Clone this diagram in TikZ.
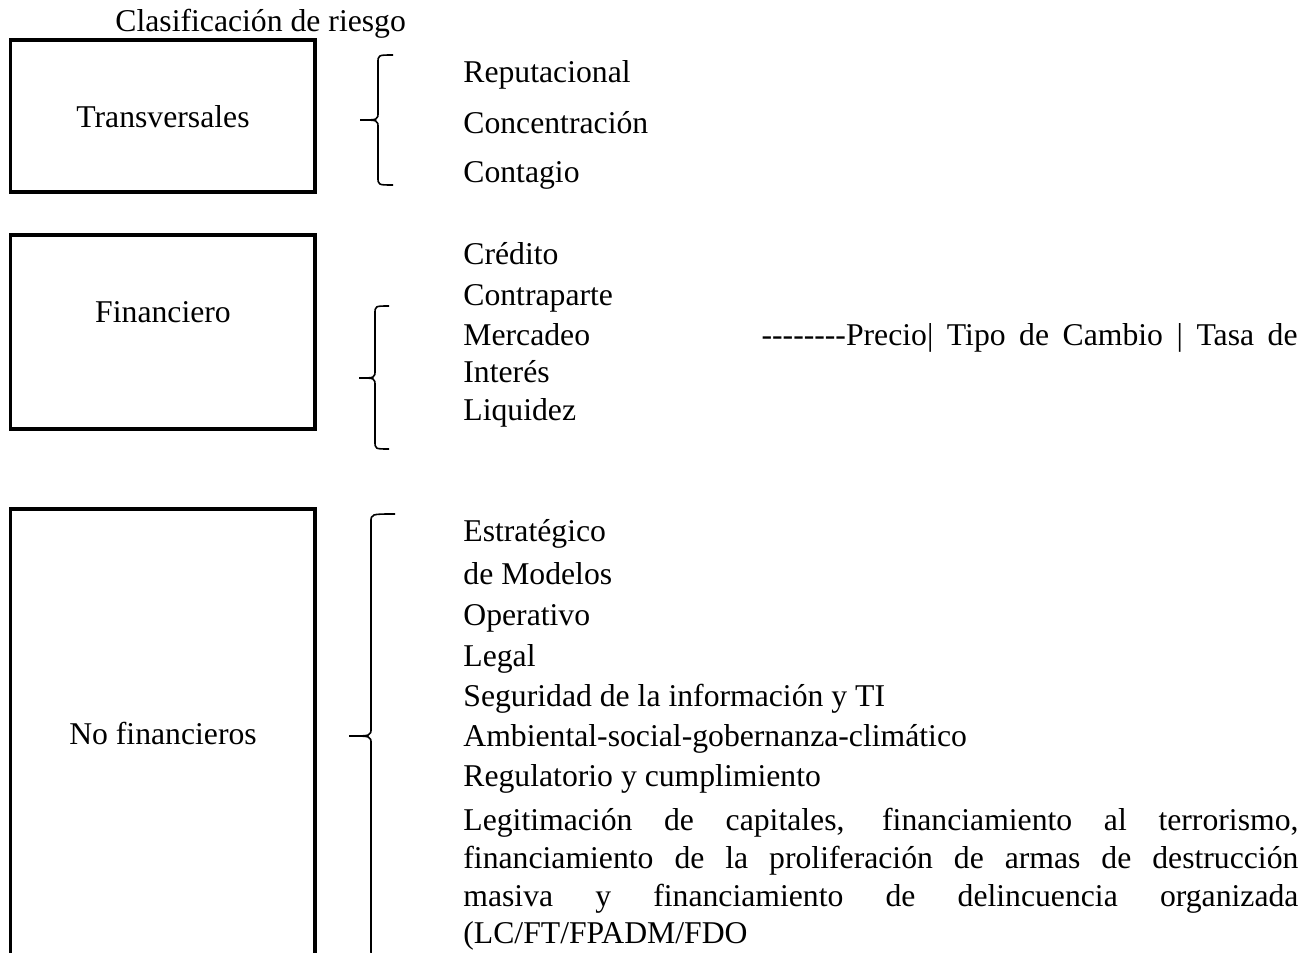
\documentclass[tikz,border=0pt]{standalone}
\usepackage{fontspec}
\setmainfont{Liberation Serif}
\usepackage{tikz}
\usetikzlibrary{positioning,calc}
\newcommand{\riskfont}{\fontsize{15.85}{20}\selectfont}
\newcommand{\guiones}{-\kern0pt-\kern0pt-\kern0pt-\kern0pt-\kern0pt-\kern0pt-\kern0pt-}

\begin{document}
\begin{tikzpicture}[x=0.5pt,y=-0.5pt,
           riskbox/.style={draw,line width=1.6pt,minimum width=152.25pt,inner sep=0pt},
           item/.style={anchor=base west,inner sep=0pt,font=\riskfont},
           boxlabel/.style={anchor=base,inner sep=0pt,font=\riskfont},
           llave/.style={line width=0.8pt}]
  \useasboundingbox (0,0) rectangle (1308,953);
  \node[item] (clasif) at (115,32) {Clasificación de riesgo};
  % cajas
  \node[riskbox,minimum height=76pt] (transv) at (162.75,116) {};
  \node[riskbox,minimum height=97pt] (financ) at (162.75,332) {};
  \node[riskbox,minimum height=240pt] (nofin) at (162.75,749) {};
  \node[boxlabel] (transvlbl) at (163,127) {Transversales};
  \node[boxlabel] (financlbl) at (163,322) {Financiero};
  \node[boxlabel] (nofinlbl) at (163,744) {No financieros};
  % llaves
  \draw[llave] (393,55) .. controls (378,55) .. (378,63) -- (378,112)
     .. controls (378,120) .. (360,120) .. controls (378,120) .. (378,128)
     -- (378,177) .. controls (378,185) .. (393,185);
  \draw[llave] (389,306) .. controls (375,306) .. (375,314) -- (375,370)
     .. controls (375,378) .. (359,378) .. controls (375,378) .. (375,386)
     -- (375,441) .. controls (375,449) .. (389,449);
  \draw[llave] (395,514) .. controls (371,514) .. (371,522) -- (371,728)
     .. controls (371,736) .. (349,736) .. controls (371,736) .. (371,744)
     -- (371,950) .. controls (371,958) .. (395,958);
  % transversales
  \node[item] (reput) at (463,83) {Reputacional};
  \node[item] (concen) at (463,133) {Concentración};
  \node[item] (contag) at (463,182) {Contagio};
  % financiero
  \node[item] (credito) at (463,264) {Crédito};
  \node[item] (contrap) at (463,305) {Contraparte};
  \node[item] (mercadeo) at (463,345) {Mercadeo};
  \node[item,anchor=base east] (precio) at (1298,345)
     {\makebox[268pt][s]{\guiones Precio| Tipo de Cambio | Tasa de}};
  \node[item] (interes) at (463,382) {Interés};
  \node[item] (liquidez) at (463,420) {Liquidez};
  % no financieros
  \node[item] (estrat) at (463,541) {Estratégico};
  \node[item] (modelos) at (463,584) {de Modelos};
  \node[item] (operat) at (463,625) {Operativo};
  \node[item] (legal) at (463,666) {Legal};
  \node[item] (seginf) at (463,706) {Seguridad de la información y TI};
  \node[item] (ambient) at (463,746) {Ambiental-social-gobernanza-climático};
  \node[item] (regul) at (463,786) {Regulatorio y cumplimiento};
  \node[item] (lcft1) at (463,830)
     {\makebox[417.5pt][s]{Legitimación de capitales, financiamiento al terrorismo,}};
  \node[item] (lcft2) at (463,868)
     {\makebox[417.5pt][s]{financiamiento de la proliferación de armas de destrucción}};
  \node[item] (lcft3) at (463,906)
     {\makebox[417.5pt][s]{masiva y financiamiento de delincuencia organizada}};
  \node[item] (lcft4) at (463,943) {(LC/FT/FPADM/FDO};
\end{tikzpicture}
\end{document}
